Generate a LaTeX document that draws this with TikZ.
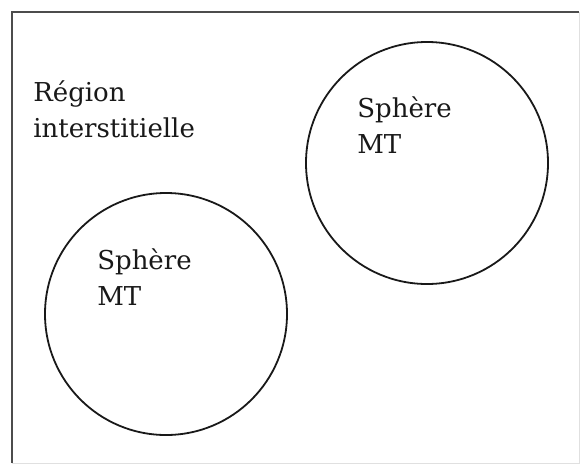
\documentclass[tikz,border=0pt]{standalone}
\usepackage{fontspec}
\setmainfont{DejaVu Serif}
\usepackage{tikz}
\usepackage{xcolor}
\usetikzlibrary{positioning}

\begin{document}
\begin{tikzpicture}[x=1pt,y=-1pt,semithick]
        \tikzstyle{sphere}=[draw=black!90,line width=1.8pt,circle,minimum size=242pt,inner sep=0pt]
        \tikzstyle{label}=[inner sep=0pt,anchor=base west,align=left,text=black!90,font=\fontsize{26}{36}\selectfont]

        \useasboundingbox (0,0) rectangle (580,466);
        \fill[white] (0,0) rectangle (580,466);

        % frame
        \draw[black!70,line width=2pt] (12,463) -- (12,12) -- (579,12);
        \draw[black!12,line width=1pt] (579,12) -- (579,463) -- (12,463);

        \node[sphere] (S1) at (427,163) {};
        \node[sphere] (S2) at (166,314) {};

        \node[label] (R)  at (33,137)  {Région\\interstitielle};
        \node[label] (L1) at (357,153) {Sphère\\MT};
        \node[label] (L2) at (97,305)  {Sphère\\MT};
    \end{tikzpicture}
\end{document}
